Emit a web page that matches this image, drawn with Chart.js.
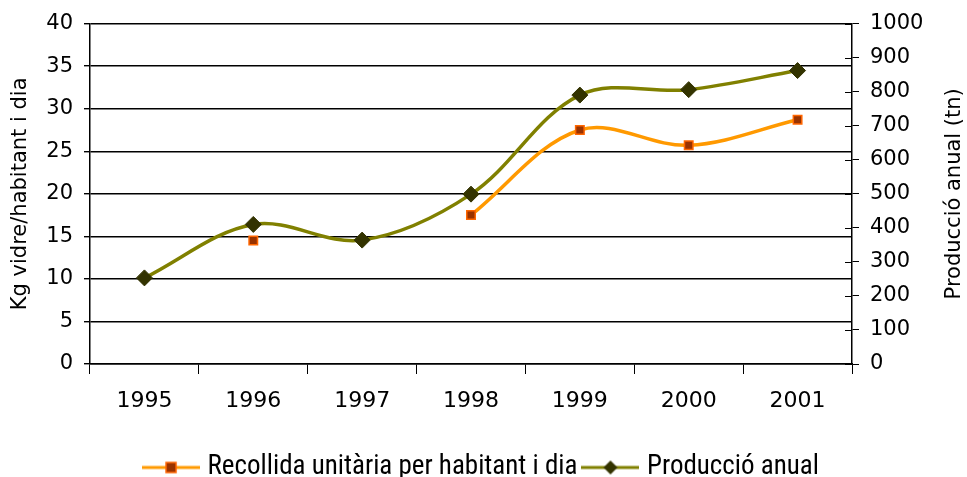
<!DOCTYPE html>
<html>
<head>
<meta charset="utf-8">
<script src="https://cdn.jsdelivr.net/npm/chart.js@4/dist/chart.umd.min.js"></script>
<style>
  html, body { margin: 0; padding: 0; background: #fff; }
  #wrap { width: 967px; height: 477px; }
</style>
</head>
<body>
<div id="wrap"><canvas id="chart" width="967" height="477"></canvas></div>
<script>
// values (no value shown for 1995 / 1997 on the orange series)
const years = ['1995', '1996', '1997', '1998', '1999', '2000', '2001'];
const recollida = [null, 14.5, null, 17.5, 27.5, 25.7, 28.7];   // kg/hab/dia (left)
const produccio = [253, 410, 364, 499, 790, 806, 862];          // tn (right)

const FONT = '"DejaVu Sans", sans-serif';
const LEGEND_FONT = '"Liberation Sans Narrow", "Roboto Condensed", "DejaVu Sans Condensed", sans-serif';

// legend swatch: short line with the marker in the middle
function swatch(lineColor, fill, stroke, shape) {
  const c = document.createElement('canvas');
  c.width = 58; c.height = 16;
  const g = c.getContext('2d');
  g.strokeStyle = lineColor; g.lineWidth = 3;
  g.beginPath(); g.moveTo(0, 8); g.lineTo(58, 8); g.stroke();
  g.fillStyle = fill; g.strokeStyle = stroke; g.lineWidth = 1.5;
  if (shape === 'rect') {
    g.fillRect(24, 3, 10, 10); g.strokeRect(24, 3, 10, 10);
  } else {
    g.beginPath(); g.moveTo(29, 1); g.lineTo(36, 8); g.lineTo(29, 15); g.lineTo(22, 8); g.closePath();
    g.fill();
  }
  return c;
}

// right-hand title reads bottom to top, and the right ticks cross the axis
const rightAxisExtras = {
  id: 'rightAxisExtras',
  afterDraw(chart) {
    const ctx = chart.ctx;
    const s = chart.scales.y1;
    const area = chart.chartArea;
    ctx.save();
    ctx.strokeStyle = '#000';
    ctx.lineWidth = 1;
    s.ticks.forEach(t => {
      const y = Math.round(s.getPixelForValue(t.value)) + 0.5;
      ctx.beginPath(); ctx.moveTo(area.right - 7, y); ctx.lineTo(area.right, y); ctx.stroke();
    });
    ctx.translate(955, (area.top + area.bottom) / 2);
    ctx.rotate(-Math.PI / 2);
    ctx.fillStyle = '#000';
    ctx.font = '21px ' + FONT;
    ctx.textAlign = 'center';
    ctx.textBaseline = 'middle';
    ctx.fillText('Producció anual (tn)', 0, 0);
    ctx.restore();
  }
};

new Chart(document.getElementById('chart'), {
  type: 'line',
  data: {
    labels: years,
    datasets: [
      {
        label: 'Recollida unitària per habitant i dia',
        data: recollida,
        yAxisID: 'y',
        borderColor: '#FF9900',
        borderWidth: 3.5,
        tension: 0.35,
        spanGaps: false,
        pointStyle: 'rect',
        pointRadius: 6,
        pointBackgroundColor: '#993300',
        pointBorderColor: '#FF6600',
        pointBorderWidth: 1.5,
        order: 2
      },
      {
        label: 'Producció anual',
        data: produccio,
        yAxisID: 'y1',
        borderColor: '#808000',
        borderWidth: 3.5,
        tension: 0.35,
        pointStyle: 'rectRot',
        pointRadius: 8,
        pointBackgroundColor: '#333300',
        pointBorderColor: '#333300',
        pointBorderWidth: 1,
        order: 1
      }
    ]
  },
  options: {
    responsive: false,
    animation: false,
    layout: { padding: { top: 22, left: 0, right: 0, bottom: -14 } },
    plugins: {
      tooltip: { enabled: false },
      legend: {
        position: 'bottom',
        labels: {
          font: { family: LEGEND_FONT, size: 27 },
          color: '#000',
          padding: 10,
          usePointStyle: true,
          pointStyleWidth: 46,
          generateLabels: () => [
            { text: 'Recollida unitària per habitant i dia', pointStyle: swatch('#FF9900', '#993300', '#FF6600', 'rect'), datasetIndex: 0, lineWidth: 0, fillStyle: 'transparent', strokeStyle: 'transparent' },
            { text: 'Producció anual', pointStyle: swatch('#808000', '#333300', '#333300', 'diamond'), datasetIndex: 1, lineWidth: 0, fillStyle: 'transparent', strokeStyle: 'transparent' }
          ]
        }
      }
    },
    scales: {
      x: {
        offset: true,
        grid: { offset: true, drawOnChartArea: false, color: '#000', tickLength: 10, tickColor: '#000' },
        border: { color: '#000', width: 1.5 },
        ticks: { color: '#000', font: { family: FONT, size: 22 }, padding: 14 },
        afterFit: s => { s.height = 80; }
      },
      y: {
        position: 'left',
        min: 0, max: 40,
        ticks: { stepSize: 5, color: '#000', font: { family: FONT, size: 21 }, padding: 11 },
        grid: { color: '#000', lineWidth: 1.4, tickLength: 6 },
        border: { color: '#000', width: 1.5 },
        title: { display: true, text: 'Kg vidre/habitant i dia', color: '#000', font: { family: FONT, size: 21 }, padding: { top: 8, bottom: 0 } },
        afterFit: s => { s.width = 90; }
      },
      y1: {
        position: 'right',
        min: 0, max: 1000,
        ticks: { stepSize: 100, color: '#000', font: { family: FONT, size: 21 }, padding: 11, callback: v => String(v) },
        grid: { drawOnChartArea: false, color: '#000', tickLength: 7 },
        border: { color: '#000', width: 1.5 },
        afterFit: s => { s.width = 115; }
      }
    }
  },
  plugins: [rightAxisExtras]
});
</script>
</body>
</html>
